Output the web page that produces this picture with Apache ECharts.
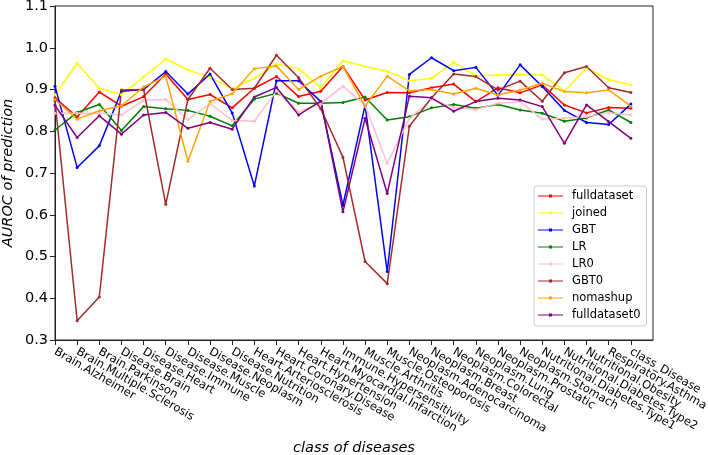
<!DOCTYPE html>
<html>
<head>
<meta charset="utf-8">
<script src="https://cdn.jsdelivr.net/npm/echarts@6/dist/echarts.min.js"></script>
<style>html,body{margin:0;padding:0;background:#fff}#c{width:708px;height:455px}</style>
</head>
<body>
<div id="c"></div>
<script>
const categories = ["Brain.Alzheimer","Brain.Multiple.Sclerosis","Brain.Parkinson","Disease.Brain","Disease.Heart","Disease.Immune","Disease.Muscle","Disease.Neoplasm","Disease.Nutrition","Heart.Arteriosclerosis","Heart.Coronary.Disease","Heart.Hypertension","Heart.Myocardial.Infarction","Immune.Hypersensitivity","Muscle.Arthritis","Muscle.Osteoporosis","Neoplasm.Adenocarcinoma","Neoplasm.Breast","Neoplasm.Colorectal","Neoplasm.Lung","Neoplasm.Prostatic","Neoplasm.Stomach","Nutritional.Diabetes.Type1","Nutritional.Diabetes.Type2","Nutritional.Obesity","Respiratory.Asthma","class_Disease"];
const yTicks = [0.3,0.4,0.5,0.6,0.7,0.8,0.9,1.0,1.1];
const fulldataset = [0.880,0.834,0.894,0.860,0.883,0.937,0.876,0.888,0.856,0.903,0.931,0.883,0.896,0.955,0.875,0.893,0.892,0.904,0.913,0.871,0.904,0.892,0.911,0.863,0.844,0.857,0.855];
const joined = [0.887,0.963,0.903,0.888,0.930,0.973,0.947,0.929,0.902,0.927,0.961,0.950,0.904,0.969,0.955,0.944,0.921,0.927,0.965,0.933,0.935,0.936,0.935,0.896,0.952,0.924,0.911];
const GBT = [0.908,0.713,0.765,0.896,0.900,0.943,0.889,0.937,0.844,0.669,0.921,0.921,0.871,0.623,0.862,0.464,0.936,0.976,0.945,0.953,0.886,0.959,0.907,0.850,0.821,0.816,0.865];
const LR = [0.803,0.845,0.864,0.802,0.859,0.854,0.850,0.836,0.813,0.877,0.891,0.867,0.867,0.869,0.882,0.827,0.835,0.856,0.864,0.855,0.864,0.851,0.843,0.824,0.832,0.851,0.821];
const LR0 = [0.843,0.843,0.843,0.839,0.874,0.876,0.828,0.866,0.826,0.824,0.896,0.847,0.866,0.908,0.862,0.723,0.831,0.876,0.857,0.852,0.867,0.871,0.829,0.831,0.835,0.844,0.839];
const GBT0 = [0.873,0.346,0.403,0.899,0.900,0.625,0.876,0.951,0.900,0.903,0.982,0.928,0.854,0.738,0.488,0.435,0.812,0.880,0.937,0.931,0.899,0.920,0.872,0.940,0.955,0.904,0.893];
const nomashup = [0.876,0.829,0.849,0.861,0.906,0.932,0.728,0.872,0.890,0.950,0.956,0.900,0.932,0.955,0.860,0.932,0.897,0.900,0.889,0.903,0.887,0.899,0.915,0.895,0.892,0.899,0.860];
const fulldataset0 = [0.862,0.785,0.837,0.793,0.839,0.845,0.807,0.821,0.805,0.882,0.905,0.839,0.872,0.607,0.831,0.651,0.884,0.880,0.848,0.871,0.879,0.875,0.859,0.771,0.863,0.823,0.783];

const seriesNames = ["fulldataset","joined","GBT","LR","LR0","GBT0","nomashup","fulldataset0"];
const seriesData = [fulldataset,joined,GBT,LR,LR0,GBT0,nomashup,fulldataset0];
const colors = ["#ff0000","#ffff00","#0000ff","#008000","#ffc0cb","#a52a2a","#ffa500","#800080"];

const FONT = "DejaVu Sans";
const chart = echarts.init(document.getElementById('c'), null, {renderer:'canvas'});
// one empty slot after the last category leaves the right margin of the original x range
const axisCategories = categories.concat(['']);
// legend handle: thin line with a small dot in the middle
const legendIcon = 'path://M0,1 L25,1 L25,2 L0,2 Z M11,0 L14,0 L14,3 L11,3 Z';

chart.setOption({
  animation: false,
  backgroundColor: '#fff',
  textStyle: {fontFamily: FONT},
  grid: {left: 55, right: 55, top: 6, bottom: 115, containLabel: false, outerBoundsMode: 'none',
    show: true, borderColor: '#222', borderWidth: 1, backgroundColor: 'transparent'},
  legend: {
    orient: 'vertical', left: 534, top: 186,
    data: seriesNames.map(n => ({name: n, icon: legendIcon})),
    backgroundColor: '#fff', borderColor: '#ccc', borderWidth: 1, borderRadius: 3,
    padding: [3, 6, 4, 4], itemGap: 3, itemWidth: 25, itemHeight: 3,
    textStyle: {fontFamily: FONT, fontSize: 11.5, lineHeight: 14, color: '#000', padding: [0, 0, 0, 4]}
  },
  xAxis: {
    type: 'category', data: axisCategories, boundaryGap: false,
    name: 'class of diseases', nameLocation: 'middle', nameGap: 101, nameMoveOverlap: false,
    nameTextStyle: {fontFamily: FONT, fontSize: 14.5, fontStyle: 'italic', color: '#000'},
    axisLine: {show: true, onZero: false, lineStyle: {color: '#222', width: 1}},
    axisTick: {show: true, length: 5, lineStyle: {color: '#222'}, interval: idx => idx < categories.length},
    axisLabel: {rotate: -30, margin: 11, interval: 0, fontSize: 11.5, color: '#000', fontFamily: FONT, hideOverlap: false},
    splitLine: {show: false}
  },
  yAxis: {
    type: 'value', min: 0.3, max: 1.1, interval: 0.1,
    name: 'AUROC of prediction', nameLocation: 'middle', nameGap: 39, nameMoveOverlap: false,
    nameTextStyle: {fontFamily: FONT, fontSize: 14.5, fontStyle: 'italic', color: '#000'},
    axisLine: {show: true, lineStyle: {color: '#222', width: 1}},
    axisTick: {show: true, length: 5, lineStyle: {color: '#222'}},
    axisLabel: {fontSize: 14.5, color: '#000', fontFamily: FONT, margin: 7, formatter: v => v.toFixed(1)},
    splitLine: {show: false}
  },
  series: seriesNames.map((n, k) => ({
    name: n, type: 'line',
    data: seriesData[k],
    symbol: 'circle', symbolSize: 3, showSymbol: true,
    itemStyle: {color: colors[k]},
    lineStyle: {color: colors[k], width: 1.5},
    emphasis: {disabled: true}
  }))
});
</script>
</body>
</html>
